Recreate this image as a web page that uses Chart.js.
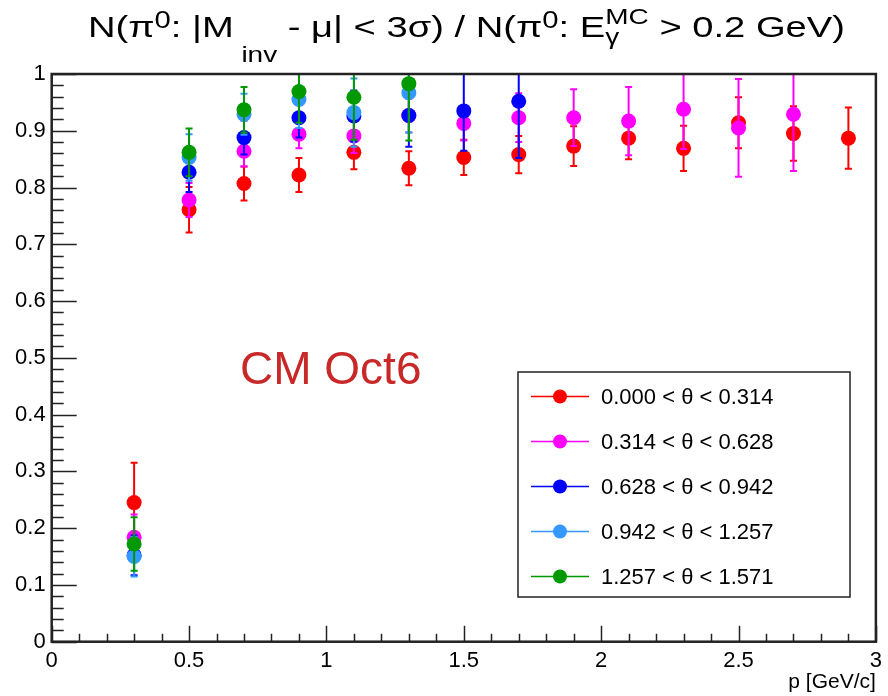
<!DOCTYPE html>
<html lang="en">
<head>
<meta charset="UTF-8" />
<title>pi0 efficiency vs p</title>
<script src="https://cdn.jsdelivr.net/npm/chart.js@4.4.0/dist/chart.umd.min.js"></script>
<style>
  body { margin: 0; padding: 0; background: #fff; }
  .container { width: 888px; height: 696px; position: relative; }
</style>
</head>
<body>
<div class="container"><canvas id="chart"></canvas></div>
<script>
// ---- data ----
const seriesLabels = [
  '0.000 < \u03b8 < 0.314',
  '0.314 < \u03b8 < 0.628',
  '0.628 < \u03b8 < 0.942',
  '0.942 < \u03b8 < 1.257',
  '1.257 < \u03b8 < 1.571'
]
const seriesColors = ['#ff0000', '#ff00ff', '#0000ff', '#3399ff', '#009900']

const pTheta0 = [0.3, 0.5, 0.7, 0.9, 1.1, 1.3, 1.5, 1.7, 1.9, 2.1, 2.3, 2.5, 2.7, 2.9]
const effTheta0 = [0.245, 0.761, 0.807, 0.822, 0.862, 0.834, 0.853, 0.858, 0.873, 0.887, 0.869, 0.914, 0.895, 0.887]
const errTheta0 = [0.07, 0.04, 0.03, 0.03, 0.03, 0.03, 0.031, 0.033, 0.035, 0.037, 0.04, 0.045, 0.048, 0.054]

const pTheta1 = [0.3, 0.5, 0.7, 0.9, 1.1, 1.3, 1.5, 1.7, 1.9, 2.1, 2.3, 2.5, 2.7]
const effTheta1 = [0.184, 0.778, 0.864, 0.894, 0.891, 0.927, 0.913, 0.923, 0.923, 0.917, 0.938, 0.905, 0.929]
const errTheta1 = [0.04, 0.03, 0.027, 0.025, 0.03, 0.03, 0.03, 0.043, 0.05, 0.06, 0.07, 0.086, 0.1]

const pTheta2 = [0.3, 0.5, 0.7, 0.9, 1.1, 1.3, 1.5, 1.7]
const effTheta2 = [0.152, 0.827, 0.888, 0.923, 0.926, 0.927, 0.935, 0.952]
const errTheta2 = [0.035, 0.035, 0.03, 0.035, 0.045, 0.055, 0.07, 0.1]

const pTheta3 = [0.3, 0.5, 0.7, 0.9, 1.1, 1.3]
const effTheta3 = [0.150, 0.853, 0.929, 0.955, 0.932, 0.967]
const errTheta3 = [0.035, 0.041, 0.036, 0.05, 0.06, 0.07]

const pTheta4 = [0.3, 0.5, 0.7, 0.9, 1.1, 1.3]
const effTheta4 = [0.172, 0.862, 0.937, 0.969, 0.959, 0.983]
const errTheta4 = [0.047, 0.042, 0.04, 0.055, 0.075, 0.1]

const xTickValues = [0, 0.5, 1, 1.5, 2, 2.5, 3]
const yTickValues = [0, 0.1, 0.2, 0.3, 0.4, 0.5, 0.6, 0.7, 0.8, 0.9, 1]

const allP = [pTheta0, pTheta1, pTheta2, pTheta3, pTheta4]
const allEff = [effTheta0, effTheta1, effTheta2, effTheta3, effTheta4]
const allErr = [errTheta0, errTheta1, errTheta2, errTheta3, errTheta4]

const FONT = "'Liberation Sans', Arial, Helvetica, sans-serif"

const datasets = seriesLabels.map((label, i) => ({
  label,
  data: allP[i].map((p, j) => ({ x: p, y: allEff[i][j], err: allErr[i][j] })),
  backgroundColor: seriesColors[i],
  borderColor: seriesColors[i],
  pointRadius: 7.5,
  pointBorderWidth: 0,
  pointHoverRadius: 7.5,
  showLine: false,
  order: seriesLabels.length - 1 - i, // last series ends up on top, like ROOT
}))

// vertical error bars, drawn just before each dataset's markers
const errorBars = {
  id: 'errorBars',
  beforeDatasetDraw(chart, args) {
    const ds = chart.data.datasets[args.index]
    const { ctx, chartArea: a } = chart
    const xs = chart.scales.x, ys = chart.scales.y
    ctx.save()
    ctx.beginPath()
    ctx.rect(a.left, a.top, a.right - a.left, a.bottom - a.top)
    ctx.clip()
    ctx.strokeStyle = ds.borderColor
    ctx.lineWidth = 2
    ds.data.forEach((d) => {
      const px = xs.getPixelForValue(d.x)
      const hi = ys.getPixelForValue(d.y + d.err)
      const lo = ys.getPixelForValue(d.y - d.err)
      ctx.beginPath()
      ctx.moveTo(px, hi); ctx.lineTo(px, lo)
      ctx.moveTo(px - 3.5, hi); ctx.lineTo(px + 3.5, hi)
      ctx.moveTo(px - 3.5, lo); ctx.lineTo(px + 3.5, lo)
      ctx.stroke()
    })
    ctx.restore()
  },
}

// ROOT-like frame with inward ticks
const frame = {
  id: 'frame',
  afterDraw(chart) {
    const { ctx, chartArea: a } = chart
    const xs = chart.scales.x, ys = chart.scales.y
    ctx.save()
    ctx.strokeStyle = '#222'
    ctx.lineWidth = 1.5
    ctx.beginPath()
    for (let k = 0; k <= 30; k++) {
      const px = Math.round(xs.getPixelForValue(k / 10)) + 0.5
      const len = k % 5 === 0 ? 16 : 8
      ctx.moveTo(px, a.bottom); ctx.lineTo(px, a.bottom - len)
    }
    for (let k = 0; k <= 50; k++) {
      const py = Math.round(ys.getPixelForValue(k / 50)) + 0.5
      const len = k % 5 === 0 ? 25 : 12
      ctx.moveTo(a.left, py); ctx.lineTo(a.left + len, py)
    }
    ctx.stroke()
    ctx.lineWidth = 2.5
    ctx.strokeRect(a.left, a.top, a.right - a.left, a.bottom - a.top)
    ctx.restore()
  },
}

// legend box inside the plot
const boxLegend = {
  id: 'boxLegend',
  afterDraw(chart) {
    const ctx = chart.ctx
    const bx = 518, by = 372, bw = 332, bh = 225
    ctx.save()
    ctx.fillStyle = '#fff'
    ctx.fillRect(bx, by, bw, bh)
    ctx.strokeStyle = '#222'
    ctx.lineWidth = 1.5
    ctx.strokeRect(bx, by, bw, bh)
    chart.data.datasets.forEach((ds, i) => {
      const cy = by + 24.5 + i * 45
      ctx.strokeStyle = ds.borderColor
      ctx.lineWidth = 1.5
      ctx.beginPath()
      ctx.moveTo(bx + 13, cy); ctx.lineTo(bx + 71, cy)
      ctx.stroke()
      ctx.fillStyle = ds.backgroundColor
      ctx.beginPath()
      ctx.arc(bx + 42, cy, 7, 0, Math.PI * 2)
      ctx.fill()
      ctx.fillStyle = '#000'
      ctx.font = '22px ' + FONT
      ctx.textBaseline = 'middle'
      ctx.textAlign = 'left'
      ctx.fillText(ds.label, bx + 83, cy + 1)
    })
    ctx.restore()
  },
}

// title with super/subscripts plus the "CM Oct6" note
const titleText = {
  id: 'titleText',
  afterDraw(chart) {
    const ctx = chart.ctx
    const base = 37
    const parts = [
      { t: 'N(\u03c0', s: 30, dy: 0 },
      { t: '0', s: 23, dy: -9 },
      { t: ': |M', s: 30, dy: 0 },
      { t: 'inv', s: 22, dy: 25, pre: 6 },
      { t: ' - \u03bc| < 3\u03c3) / N(\u03c0', s: 30, dy: 0 },
      { t: '0', s: 23, dy: -9 },
      { t: ': E', s: 30, dy: 0 },
      { t: '\u03b3', s: 22, dy: 7, pair: { t: 'MC', s: 22, dy: -13 } },
      { t: ' > 0.2 GeV)', s: 30, dy: 0 },
    ]
    ctx.save()
    ctx.textBaseline = 'alphabetic'
    ctx.textAlign = 'left'
    ctx.fillStyle = '#000'
    let total = 0
    parts.forEach((p) => {
      ctx.font = p.s + 'px ' + FONT
      let w = ctx.measureText(p.t).width
      if (p.pair) {
        ctx.font = p.pair.s + 'px ' + FONT
        w = Math.max(w, ctx.measureText(p.pair.t).width)
      }
      p.w = w + (p.pre || 0)
      total += p.w
    })
    const x0 = 88, targetW = 757
    const sx = targetW / total
    ctx.translate(x0, 0)
    ctx.scale(sx, 1)
    let x = 0
    parts.forEach((p) => {
      ctx.font = p.s + 'px ' + FONT
      ctx.fillText(p.t, x + (p.pre || 0), base + p.dy)
      if (p.pair) {
        ctx.font = p.pair.s + 'px ' + FONT
        ctx.fillText(p.pair.t, x, base + p.pair.dy)
      }
      x += p.w
    })
    ctx.restore()

    ctx.save()
    ctx.fillStyle = '#c82828'
    ctx.font = '46px ' + FONT
    ctx.textBaseline = 'alphabetic'
    ctx.fillText('CM Oct6', 240, 384)
    ctx.restore()
  },
}

const plainNumber = (v) => String(Math.round(v * 10) / 10)

new Chart(document.getElementById('chart'), {
  type: 'scatter',
  data: { datasets },
  options: {
    responsive: true,
    maintainAspectRatio: false,
    animation: false,
    events: [],
    layout: { padding: { top: 74, right: 6.5, left: 0, bottom: 0 } },
    plugins: {
      legend: { display: false },
      title: { display: false },
      tooltip: { enabled: false },
    },
    scales: {
      x: {
        type: 'linear',
        min: 0,
        max: 3,
        afterFit: (s) => { s.height = 54.3 },
        afterBuildTicks: (s) => { s.ticks = xTickValues.map((v) => ({ value: v })) },
        grid: { display: false, drawTicks: false },
        border: { display: false },
        ticks: {
          color: '#000',
          padding: 6,
          maxRotation: 0,
          font: { family: FONT, size: 22 },
          callback: plainNumber,
        },
        title: {
          display: true,
          text: 'p [GeV/c]',
          align: 'end',
          color: '#000',
          font: { family: FONT, size: 21 },
          padding: { top: 0, bottom: 1 },
        },
      },
      y: {
        type: 'linear',
        min: 0,
        max: 1,
        afterFit: (s) => { s.width = 51.7 },
        afterBuildTicks: (s) => { s.ticks = yTickValues.map((v) => ({ value: v })) },
        grid: { display: false, drawTicks: false },
        border: { display: false },
        ticks: {
          color: '#000',
          padding: 6,
          font: { family: FONT, size: 22 },
          callback: plainNumber,
        },
      },
    },
  },
  plugins: [errorBars, frame, boxLegend, titleText],
})
</script>
</body>
</html>
